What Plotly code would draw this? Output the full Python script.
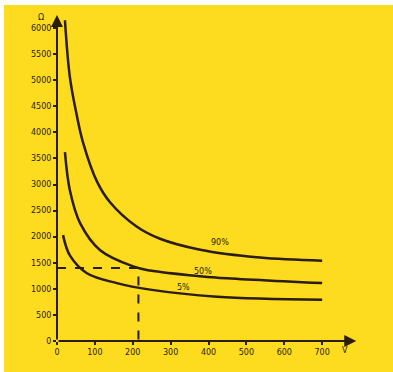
import plotly.graph_objects as go

# Data
v90 = [21, 34, 53, 69, 106, 140, 211, 272, 378, 536, 700]
r90 = [6150, 5060, 4300, 3800, 3050, 2660, 2190, 1960, 1750, 1600, 1540]
v50 = [21, 34, 61, 114, 201, 246, 378, 423, 700]
r50 = [3620, 2890, 2260, 1740, 1430, 1350, 1240, 1215, 1110]
v5 = [16, 34, 79, 158, 246, 423, 700]
r5 = [2030, 1640, 1300, 1110, 985, 850, 790]
series_names = ["90%", "50%", "5%"]
label_pos_v = [430, 386, 333]
label_pos_r = [1880, 1340, 1020]
x_ticks = [0, 100, 200, 300, 400, 500, 600, 700]
y_ticks = [0, 500, 1000, 1500, 2000, 2500, 3000, 3500, 4000, 4500, 5000, 5500, 6000]
ref_v = 215
ref_r = 1400

YELLOW = "#FDDB1E"
INK = "#2b1d0e"

fig = go.Figure()
for vx, ry in [(v90, r90), (v50, r50), (v5, r5)]:
    fig.add_trace(go.Scatter(x=vx, y=ry, mode="lines",
                             line=dict(color=INK, width=2.5, shape="spline", smoothing=1.0),
                             showlegend=False, hoverinfo="skip"))

# dashed reference lines
fig.add_trace(go.Scatter(x=[0, ref_v, ref_v], y=[ref_r, ref_r, 0], mode="lines",
                         line=dict(color=INK, width=2, dash="dash"),
                         showlegend=False, hoverinfo="skip"))

for name, lv, lr in zip(series_names, label_pos_v, label_pos_r):
    fig.add_annotation(x=lv, y=lr, text=name, showarrow=False,
                       font=dict(size=8, color=INK, family="DejaVu Sans"))

# axis arrows
fig.add_annotation(x=790, y=0, ax=0, ay=0, xref="x", yref="y", axref="x", ayref="y",
                   text="", showarrow=True, arrowhead=2, arrowsize=1.2, arrowwidth=2, arrowcolor=INK)
fig.add_annotation(x=0, y=6250, ax=0, ay=0, xref="x", yref="y", axref="x", ayref="y",
                   text="", showarrow=True, arrowhead=2, arrowsize=1.2, arrowwidth=2, arrowcolor=INK)

fig.add_annotation(x=760, y=0, yshift=-9, text="V", showarrow=False,
                   font=dict(size=8, color=INK, family="DejaVu Sans"))
fig.add_annotation(xref="paper", yref="paper", x=-0.07, y=1.0, yshift=4, text="Ω",
                   showarrow=False, font=dict(size=8, color=INK, family="DejaVu Sans"))

fig.update_xaxes(range=[0, 792], tickvals=x_ticks, ticktext=[str(t) for t in x_ticks],
                 showgrid=False, zeroline=False, showline=False,
                 ticks="outside", ticklen=3, tickcolor=INK, tickwidth=1.5,
                 tickfont=dict(size=8, color=INK, family="DejaVu Sans"))
fig.update_yaxes(range=[0, 6250], tickvals=y_ticks, ticktext=[str(t) for t in y_ticks],
                 showgrid=False, zeroline=False, showline=False,
                 ticks="outside", ticklen=3, tickcolor=INK, tickwidth=1.5,
                 tickfont=dict(size=8, color=INK, family="DejaVu Sans"))

fig.update_layout(width=393, height=372,
                  margin=dict(l=57, r=36, t=15, b=31),
                  paper_bgcolor=YELLOW, plot_bgcolor=YELLOW)
# white frame strips at left and top
fig.add_shape(type="rect", xref="paper", yref="paper", x0=-57/300, x1=-53/300, y0=-31/326, y1=1 + 15/326,
              line=dict(width=0), fillcolor="white", layer="above")
fig.add_shape(type="rect", xref="paper", yref="paper", x0=-57/300, x1=1 + 36/300, y0=1 + 10/326, y1=1 + 15/326,
              line=dict(width=0), fillcolor="white", layer="above")

fig.write_html("out.html", config={"displayModeBar": False},
               post_script="document.body.style.margin='0';")
